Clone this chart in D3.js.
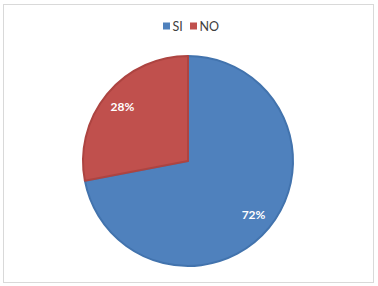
<!DOCTYPE html>
<html>
<head>
<meta charset="utf-8">
<script src="https://cdn.jsdelivr.net/npm/d3@7"></script>
<style>
	body { margin: 0; background: #fff; }
	svg { display: block; }
</style>
</head>
<body>
<svg id="chart" width="378" height="286"></svg>
<script>
// chart data
var categories = [ 'SI', 'NO' ];
var values = [ 72, 28 ];
var colors = [ '#4f81bd', '#c0504d' ];
var edgeColors = [ '#4273ad', '#ad4441' ];

var svg = d3.select( '#chart' );
var font = 'Lato, "Open Sans", sans-serif';

// light frame round the chart area
svg.append( 'rect' )
	.attr( 'x', 3.5 )
	.attr( 'y', 4.5 )
	.attr( 'width', 370 )
	.attr( 'height', 278 )
	.attr( 'fill', '#fff' )
	.attr( 'stroke', '#d9d9d9' );

var radius = 105;
var g = svg.append( 'g' )
	.attr( 'transform', 'translate(188,161)' );

var pie = d3.pie().sort( null ).value( function( d ) { return d; } );
var arcs = pie( values );
var arc = d3.arc().innerRadius( 0 ).outerRadius( radius );
var labelArc = d3.arc().innerRadius( radius * 0.81 ).outerRadius( radius * 0.81 );

g.selectAll( 'path' )
	.data( arcs )
	.enter()
	.append( 'path' )
	.attr( 'd', arc )
	.attr( 'fill', function( d, i ) { return colors[ i ]; } )
	.attr( 'stroke', function( d, i ) { return edgeColors[ i ]; } )
	.attr( 'stroke-width', 2 )
	.attr( 'stroke-linejoin', 'round' );

g.selectAll( 'text.lbl' )
	.data( arcs )
	.enter()
	.append( 'text' )
	.attr( 'class', 'lbl' )
	.attr( 'transform', function( d ) { return 'translate(' + labelArc.centroid( d ) + ')'; } )
	.attr( 'text-anchor', 'middle' )
	.attr( 'dy', '0.35em' )
	.attr( 'fill', '#fff' )
	.attr( 'font-family', font )
	.attr( 'font-weight', 'bold' )
	.attr( 'font-size', 12 )
	.text( function( d ) { return d.value + '%'; } );

// legend
var legendX = [ 163, 190 ];
var legend = svg.selectAll( 'g.legend' )
	.data( categories )
	.enter()
	.append( 'g' )
	.attr( 'class', 'legend' )
	.attr( 'transform', function( d, i ) { return 'translate(' + legendX[ i ] + ',26)'; } );

legend.append( 'rect' )
	.attr( 'x', 0 )
	.attr( 'y', -3.5 )
	.attr( 'width', 7 )
	.attr( 'height', 7 )
	.attr( 'fill', function( d, i ) { return colors[ i ]; } );

legend.append( 'text' )
	.attr( 'x', 9.5 )
	.attr( 'dy', '0.36em' )
	.attr( 'fill', '#404040' )
	.attr( 'font-family', font )
	.attr( 'font-size', 12.5 )
	.text( function( d ) { return d; } );
</script>
</body>
</html>
